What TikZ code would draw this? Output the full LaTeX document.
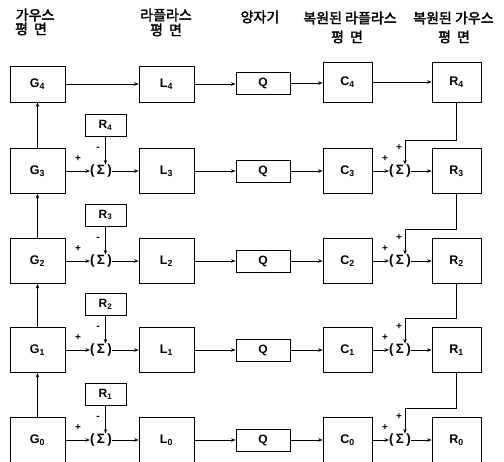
\documentclass[tikz,border=0pt]{standalone}
\usepackage{fontspec}
\setmainfont{Liberation Sans}
\newfontfamily\kr{Noto Sans CJK KR}[AutoFakeBold=2.5]
\usetikzlibrary{arrows.meta}
\begin{document}
\begin{tikzpicture}[x=1pt,y=-1pt,
 every node/.style={inner sep=0pt},
 blk/.style={draw,line width=0.8pt,minimum width=55pt,minimum height=45pt,font=\bfseries\fontsize{12.5}{14}\selectfont},
 blkn/.style={blk,minimum width=49pt},
 qbox/.style={draw,line width=0.8pt,minimum width=54pt,minimum height=22pt,font=\bfseries\fontsize{12}{14}\selectfont},
 rbox/.style={draw,line width=0.8pt,minimum width=41pt,minimum height=22pt,font=\bfseries\fontsize{12}{14}\selectfont},
 sumn/.style={font=\bfseries\fontsize{13.5}{15}\selectfont},
 lab/.style={font=\bfseries\fontsize{10}{11}\selectfont},
 hdr/.style={font=\kr\bfseries\fontsize{14}{16}\selectfont},
 arr/.style={line width=0.8pt,-{Stealth[length=4.5pt,width=3.5pt]}},
 ln/.style={line width=0.8pt}
]
\useasboundingbox (0,0) rectangle (504,462);
% headers
\node[hdr] (h1a) at (35,15) {가우스};
\node[hdr] (h1b) at (31,29) {평\hspace{6pt}면};
\node[hdr] (h2a) at (166,15) {라플라스};
\node[hdr] (h2b) at (166,30) {평\hspace{6pt}면};
\node[hdr] (h3a) at (260,17) {양자기};
\node[hdr] (h4a) at (350,18) {복원된 라플라스};
\node[hdr] (h4b) at (347,37) {평\hspace{6pt}면};
\node[hdr,anchor=west] (h5a) at (413,18) {복원된 가우스};
\node[hdr] (h5b) at (454,37) {평\hspace{6pt}면};

% row 4
\node[blk,minimum height=36pt] (G4) at (37.5,84) {G\textsubscript{4}};
\node[blk,minimum height=36pt] (L4) at (166.5,84) {L\textsubscript{4}};
\node[qbox] (Q4) at (263,83) {Q};
\node[blkn,minimum height=40pt] (C4) at (347.5,82) {C\textsubscript{4}};
\node[blkn,minimum height=40pt] (R4) at (456.5,82) {R\textsubscript{4}};
\draw[arr] (G4.east) -- (G4.east -| L4.west);
\draw[arr] (L4.east) -- (L4.east -| Q4.west);
\draw[arr] (Q4.east) -- (Q4.east -| C4.west);
\draw[arr] (C4.east) -- (C4.east -| R4.west);

% rows 3..0
\foreach \k/\y/\up/\t in {3/171/4/140, 2/261/3/229, 1/350/2/318, 0/440/1/408}{
  \node[blk] (G\k) at (37.5,\y) {G\textsubscript{\k}};
  \node[sumn] (S\k) at (101,\y) {(\,Σ\,)};
  \node[blk] (L\k) at (166.5,\y) {L\textsubscript{\k}};
  \node[qbox] (Q\k) at (263,\y) {Q};
  \node[blkn] (C\k) at (347.5,\y) {C\textsubscript{\k}};
  \node[sumn] (T\k) at (400,\y) {(\,Σ\,)};
  \node[blkn] (R\k) at (456.5,\y) {R\textsubscript{\k}};
  \node[rbox] (P\up) at (105.5,\y-46) {R\textsubscript{\up}};
  \draw[arr] (G\k.east) -- (G\k.east -| S\k.west);
  \draw[arr] (S\k.east) -- (S\k.east -| L\k.west);
  \draw[arr] (L\k.east) -- (L\k.east -| Q\k.west);
  \draw[arr] (Q\k.east) -- (Q\k.east -| C\k.west);
  \draw[arr] (C\k.east) -- (C\k.east -| T\k.west);
  \draw[arr] (T\k.east) -- (T\k.east -| R\k.west);
  \draw[arr] (P\up.south) -- (P\up.south |- S\k.north);
  \draw[arr] (G\k.north) -- (G\up.south);
  \coordinate (A\k) at (456,\t);
  \coordinate (B\k) at (405,\t);
  \draw[arr] (R\up.south -| A\k) -- (A\k) -- (B\k) -- (B\k |- T\k.north);
  \node[lab] (pl\k) at (78,\y-12) {+};
  \node[lab] (mi\k) at (98,\y-22) {-};
  \node[lab] (pr\k) at (385,\y-12) {+};
  \node[lab] (pv\k) at (399,\y-23) {+};
}
\end{tikzpicture}
\end{document}
